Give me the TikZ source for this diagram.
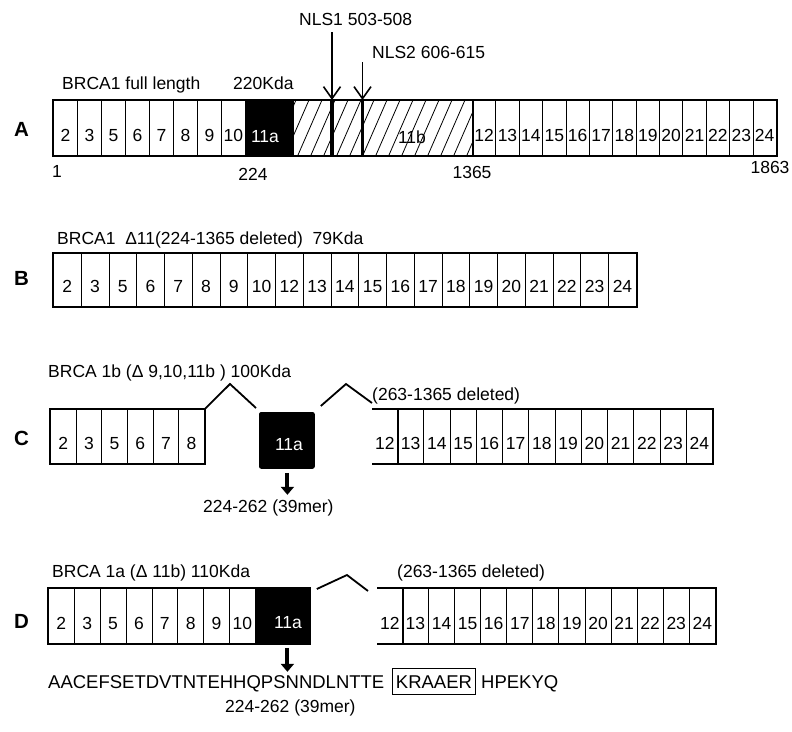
\documentclass[tikz,border=0pt]{standalone}
\usepackage{fontspec}
\setmainfont{Liberation Sans}
\usetikzlibrary{arrows.meta,calc,positioning}
\newcommand{\txtsize}{\fontsize{17.5pt}{20pt}\selectfont}
\tikzset{
    exon/.style={draw=black,line width=0.8pt,inner sep=0pt,anchor=north west,
                 minimum height=55pt,text height=28pt,text depth=0pt,font=\txtsize},
    blackexon/.style={exon,fill=black,text=white},
    outer/.style={draw=black,line width=1.8pt},
    nlsbar/.style={line width=3.4pt,draw=black},
    hinge/.style={line width=1.8pt,draw=black},
    nlsarrow/.style={line width=1.6pt,-{Straight Barb[length=12pt,width=17pt]}},
    fatarrow/.style={line width=4pt,-{Triangle[length=8pt,width=13pt]}},
    txt/.style={font=\txtsize,inner sep=0pt,anchor=base west},
    numtxt/.style={font=\txtsize,inner sep=0pt,anchor=base},
    rowlabel/.style={font=\fontsize{20.5pt}{23pt}\selectfont\bfseries,inner sep=0pt,anchor=base}
}

\begin{document}
\begin{tikzpicture}[x=1pt,y=-1pt]
  \useasboundingbox (0,0) rectangle (792,731);

  % ===== A: full length =====
  \node[rowlabel] (labA) at (21.5,136.5) {A};
  \foreach \n [count=\i from 0] in {2,3,5,6,7,8,9,10}{
    \node[exon,minimum width=24pt] (A\n) at (53+24*\i,100) {\n};
  }
  \node[blackexon,minimum width=48pt] (A11a) at (245,100) {};
  \node[numtxt,text=white] at (265,142) {11a};
  \node[exon,minimum width=179pt] (A11b) at (293,100) {};
  % hatching
  \begin{scope}
    \clip (A11b.south west) rectangle (A11b.north east);
    \foreach \x in {272,285,...,480}{
      \draw[line width=0.8pt] (\x,155) -- ++(24,-55);
    }
  \end{scope}
  \draw[line width=2.4pt] (A11b.south west) rectangle (A11b.north east);
  \node[numtxt] at (412,143) {11b};
  \foreach \n [count=\i from 0] in {12,...,24}{
    \node[exon,minimum width=23.385pt] (A\n) at (472+23.385*\i,100) {\n};
  }
  \draw[outer] (A2.north west) rectangle (A24.south east);

  % NLS
  \coordinate (nls1) at (332,32);
  \coordinate (nls2) at (362.5,62);
  \draw[nlsbar] (nls1 |- A11b.north) -- (nls1 |- A11b.south);
  \draw[nlsbar] (nls2 |- A11b.north) -- (nls2 |- A11b.south);
  \draw[nlsarrow] (nls1) -- (nls1 |- A11b.north);
  \draw[nlsarrow] (nls2) -- (nls2 |- A11b.north);
  \node[txt] (nlslab1) at (299,25) {NLS1 503-508};
  \node[txt] (nlslab2) at (372,58) {NLS2 606-615};

  \node[txt] (titleA) at (62,89) {BRCA1 full length};
  \node[txt] (kdaA) at (233,89) {220Kda};
  \node[numtxt] (pos1) at (57,177) {1};
  \node[numtxt] (pos224) at (253,180) {224};
  \node[numtxt] (pos1365) at (472,178) {1365};
  \node[numtxt] (pos1863) at (770,173) {1863};

  % ===== B: delta 11 =====
  \node[rowlabel] (labB) at (21.5,285) {B};
  \foreach \n [count=\i from 0] in {2,3,5,6,7,8,9,10,12,13,14,15,16,17,18,19,20,21,22,23,24}{
    \node[exon,minimum width=27.76pt,minimum height=53pt,text height=26pt] (B\n) at (53+27.76*\i,253) {\n};
  }
  \draw[outer] (B2.north west) rectangle (B24.south east);
  \node[txt] (titleB) at (57,244) {BRCA1\ \ Δ11(224-1365 deleted)\ \ 79Kda};

  % ===== C: BRCA 1b =====
  \node[rowlabel] (labC) at (21.5,445) {C};
  \foreach \n [count=\i from 0] in {2,3,5,6,7,8}{
    \node[exon,minimum width=25.67pt,minimum height=54pt,text height=27pt] (C\n) at (50+25.67*\i,409) {\n};
  }
  \draw[outer] (C2.north west) rectangle (C8.south east);
  \node[blackexon,rounded corners=2pt,minimum width=55pt,minimum height=56pt,text height=20pt] (C11a) at (259,412) {};
  \node[numtxt,text=white] at (289,450) {11a};
  \node[exon,draw=none,minimum width=25pt,minimum height=54pt,text height=27pt] (C12) at (372,409) {12};
  \foreach \n [count=\i from 0] in {13,...,24}{
    \node[exon,minimum width=26.25pt,minimum height=54pt,text height=27pt] (C\n) at (397+26.25*\i,409) {\n};
  }
  \draw[outer] (C12.north west) -- (C24.north east) -- (C24.south east) -- (C12.south west);
  \draw[line width=2.4pt] (C12.north east) -- (C12.south east);
  % splice hinges
  \draw[hinge] (C8.north east) -- (230,384) -- ($(C11a.north west)+(-3,-4)$);
  \draw[hinge] ($(C11a.north east)+(6,-6)$) -- (346,384) -- ($(C12.north west)+(0,-6)$);
  \node[txt] (titleC) at (48,377) {BRCA 1b (Δ 9,10,11b\ ) 100Kda};
  \node[txt] (delC) at (372,400) {(263-1365 deleted)};
  \node[txt] (merC) at (203,512) {224-262 (39mer)};
  \draw[fatarrow] ($(C11a.south)+(0.5,4)$) -- ($(C11a.south)+(0.5,26)$);

  % ===== D: BRCA 1a =====
  \node[rowlabel] (labD) at (21.5,628) {D};
  \foreach \n [count=\i from 0] in {2,3,5,6,7,8,9,10}{
    \node[exon,minimum width=25.875pt] (D\n) at (48+25.875*\i,588) {\n};
  }
  \node[blackexon,minimum width=54pt] (D11a) at (255,588) {};
  \node[numtxt,text=white] at (288,628) {11a};
  \draw[outer] (D2.north west) rectangle (D11a.south east);
  \node[exon,draw=none,minimum width=25pt] (D12) at (377,588) {12};
  \foreach \n [count=\i from 0] in {13,...,24}{
    \node[exon,minimum width=26.08pt] (D\n) at (402+26.08*\i,588) {\n};
  }
  \draw[outer] (D12.north west) -- (D24.north east) -- (D24.south east) -- (D12.south west);
  \draw[line width=2.4pt] (D12.north east) -- (D12.south east);
  \draw[hinge] ($(D11a.north east)+(7,1)$) -- (347,575) -- ($(D12.north west)+(-9,3)$);
  \node[txt] (titleD) at (52,577) {BRCA 1a (Δ 11b) 110Kda};
  \node[txt] (delD) at (397,577) {(263-1365 deleted)};
  \draw[fatarrow] ($(D11a.south)+(5,4)$) -- ($(D11a.south)+(5,28)$);
  \node[txt,font=\fontsize{18.5pt}{21pt}\selectfont] (seq) at (48,688) {AACEFSETDVTNTEHHQPSNNDLNTTE};
  \node[txt,font=\fontsize{18.5pt}{21pt}\selectfont,draw=black,line width=0.9pt,
        inner xsep=3.5pt,inner ysep=6.5pt] (nlsmotif) at (392,688) {KRAAER};
  \node[txt,font=\fontsize{18.5pt}{21pt}\selectfont] (seqend) at (481,688) {HPEKYQ};
  \node[txt] (merD) at (225,712) {224-262 (39mer)};
\end{tikzpicture}
\end{document}
